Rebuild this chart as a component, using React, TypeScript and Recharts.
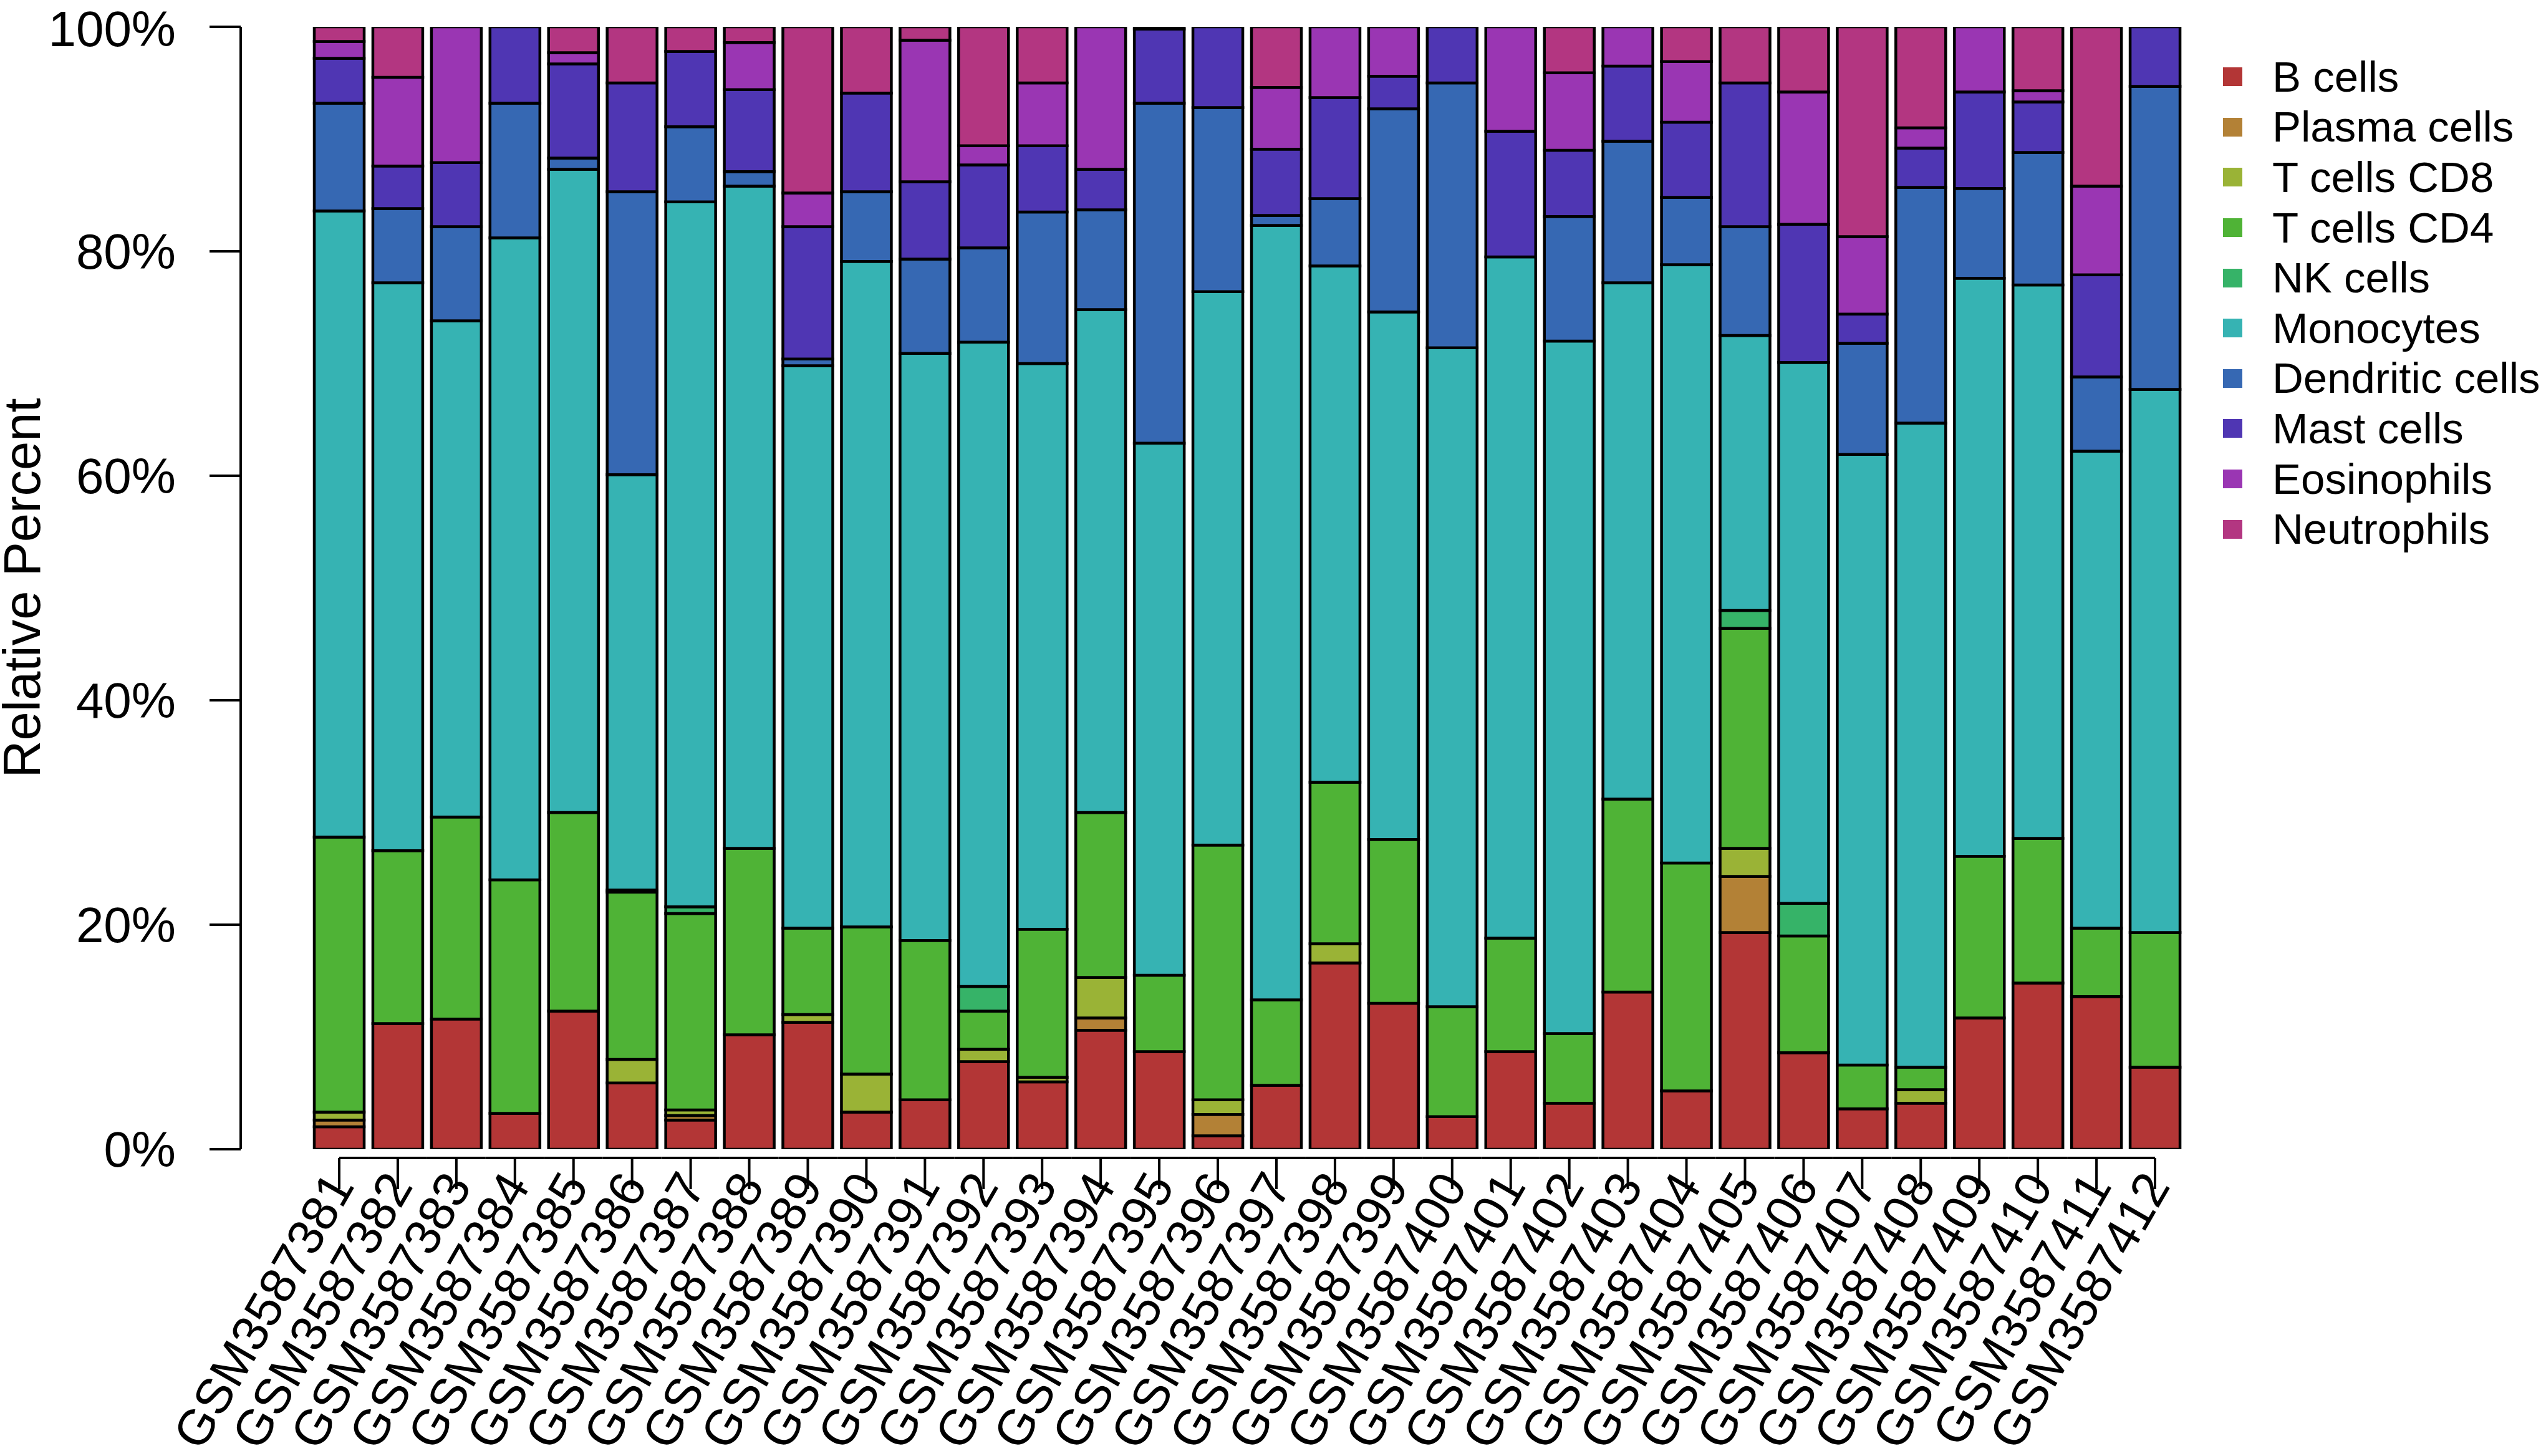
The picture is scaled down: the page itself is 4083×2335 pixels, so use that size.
import React from 'react';
import { BarChart, Bar, XAxis, YAxis } from 'recharts';

// sample ids along the x axis
const SAMPLES = [
  'GSM3587381', 'GSM3587382', 'GSM3587383', 'GSM3587384', 'GSM3587385', 'GSM3587386',
  'GSM3587387', 'GSM3587388', 'GSM3587389', 'GSM3587390', 'GSM3587391', 'GSM3587392',
  'GSM3587393', 'GSM3587394', 'GSM3587395', 'GSM3587396', 'GSM3587397', 'GSM3587398',
  'GSM3587399', 'GSM3587400', 'GSM3587401', 'GSM3587402', 'GSM3587403', 'GSM3587404',
  'GSM3587405', 'GSM3587406', 'GSM3587407', 'GSM3587408', 'GSM3587409', 'GSM3587410',
  'GSM3587411', 'GSM3587412',
];

const CELL_TYPES = [
  'B cells', 'Plasma cells', 'T cells CD8', 'T cells CD4', 'NK cells',
  'Monocytes', 'Dendritic cells', 'Mast cells', 'Eosinophils', 'Neutrophils',
];

// rainbow(10, s = 0.7, v = 0.7)
const CELL_COLORS = [
  '#B33636', '#B38136', '#9AB336', '#4FB336', '#36B368',
  '#36B3B3', '#3668B3', '#4F36B3', '#9A36B3', '#B33681',
];

// relative percent per sample (bottom to top of each stack)
const B_CELLS = [2.0, 11.2, 11.6, 3.2, 12.3, 5.9, 2.6, 10.2, 11.3, 3.3, 4.4, 7.8, 6.0, 10.6, 8.7, 1.2, 5.7, 16.6, 13.0, 2.9, 8.7, 4.1, 14.0, 5.2, 19.3, 8.6, 3.6, 4.1, 11.7, 14.8, 13.6, 7.3];
const PLASMA_CELLS = [0.6, 0, 0, 0, 0, 0, 0.4, 0, 0, 0, 0, 0, 0, 1.1, 0, 1.9, 0, 0, 0, 0, 0, 0, 0, 0, 5.0, 0, 0, 0, 0, 0, 0, 0];
const T_CD8 = [0.7, 0, 0, 0, 0, 2.1, 0.5, 0, 0.7, 3.4, 0, 1.1, 0.4, 3.6, 0, 1.3, 0, 1.7, 0, 0, 0, 0, 0, 0, 2.5, 0, 0, 1.2, 0, 0, 0, 0];
const T_CD4 = [24.5, 15.4, 18.0, 20.8, 17.7, 14.9, 17.5, 16.6, 7.7, 13.1, 14.2, 3.4, 13.2, 14.7, 6.8, 22.7, 7.6, 14.4, 14.6, 9.8, 10.1, 6.2, 17.2, 20.3, 19.6, 10.4, 3.9, 2.0, 14.4, 12.9, 6.1, 12.0];
const NK_CELLS = [0, 0, 0, 0, 0, 0.2, 0.6, 0, 0, 0, 0, 2.2, 0, 0, 0, 0, 0, 0, 0, 0, 0, 0, 0, 0, 1.6, 2.9, 0, 0, 0, 0, 0, 0];
const MONOCYTES = [55.8, 50.6, 44.2, 57.2, 57.3, 37.0, 62.8, 59.0, 50.1, 59.3, 52.3, 57.4, 50.4, 44.8, 47.4, 49.3, 69.0, 46.0, 47.0, 58.7, 60.7, 61.7, 46.0, 53.3, 24.5, 48.2, 54.4, 57.4, 51.5, 49.3, 42.5, 48.4];
const DENDRITIC = [9.6, 6.6, 8.4, 12.0, 1.0, 25.2, 6.7, 1.3, 0.6, 6.2, 8.4, 8.4, 13.5, 8.9, 30.3, 16.4, 0.9, 6.0, 18.1, 23.6, 0, 11.1, 12.6, 6.0, 9.7, 0, 9.9, 21.0, 8.0, 11.8, 6.6, 27.0];
const MAST_CELLS = [4.0, 3.8, 5.7, 6.8, 8.4, 9.7, 6.7, 7.3, 11.8, 8.8, 6.9, 7.4, 5.9, 3.6, 6.6, 7.2, 5.9, 9.0, 2.9, 5.0, 11.2, 5.9, 6.7, 6.7, 12.8, 12.3, 2.6, 3.5, 8.6, 4.5, 9.1, 5.3];
const EOSINOPHILS = [1.5, 7.9, 12.1, 0, 1.0, 0, 0, 4.2, 3.0, 0, 12.6, 1.7, 5.6, 12.7, 0, 0, 5.5, 6.3, 4.4, 0, 9.3, 6.9, 3.5, 5.4, 0, 11.8, 6.9, 1.8, 5.8, 1.0, 7.9, 0];
const NEUTROPHILS = [1.3, 4.5, 0, 0, 2.3, 5.0, 2.2, 1.4, 14.8, 5.9, 1.2, 10.6, 5.0, 0, 0.2, 0, 5.4, 0, 0, 0, 0, 4.1, 0, 3.1, 5.0, 5.8, 18.7, 9.0, 0, 5.7, 14.2, 0];

const Y_TICKS = [0, 20, 40, 60, 80, 100];

const SERIES = [
  B_CELLS, PLASMA_CELLS, T_CD8, T_CD4, NK_CELLS,
  MONOCYTES, DENDRITIC, MAST_CELLS, EOSINOPHILS, NEUTROPHILS,
];

const data = SAMPLES.map((name, i) => {
  const row: Record<string, string | number> = { name };
  CELL_TYPES.forEach((type, j) => {
    row[type] = SERIES[j][i];
  });
  return row;
});

// layout
const WIDTH = 4083;
const HEIGHT = 2335;
const PLOT_LEFT = 386;
const PLOT_TOP = 43;
const PLOT_BOTTOM = 1843;
const PLOT_RIGHT = 3503;
const PAD_LEFT = 111;
const BAND = (PLOT_RIGHT - PLOT_LEFT - PAD_LEFT) / SAMPLES.length;
const AXIS_Y = 1857;
const FONT = '"Liberation Sans", Arial, Helvetica, sans-serif';

const XTick = (props: any) => {
  const { x, payload, index } = props;
  const left = index > 0 ? BAND / 2 : 0;
  const right = index < SAMPLES.length - 1 ? BAND / 2 : 0;
  return (
    <g>
      <line x1={x - left} x2={x + right} y1={AXIS_Y} y2={AXIS_Y} stroke="#000" strokeWidth={4} />
      <line x1={x} x2={x} y1={AXIS_Y} y2={AXIS_Y + 50} stroke="#000" strokeWidth={4} />
      <text
        transform={`translate(${x + 2},${AXIS_Y + 31}) rotate(-60)`}
        textAnchor="end"
        dominantBaseline="central"
        fontSize={80}
        fontFamily={FONT}
        fill="#000"
      >
        {payload.value}
      </text>
    </g>
  );
};

const YTitle = (props: any) => {
  const { viewBox } = props;
  const cy = viewBox ? viewBox.y + viewBox.height / 2 : (PLOT_TOP + PLOT_BOTTOM) / 2;
  return (
    <text
      transform={`translate(64,${cy}) rotate(-90)`}
      textAnchor="middle"
      fontSize={83}
      fontFamily={FONT}
      fill="#000"
    >
      Relative Percent
    </text>
  );
};

const LegendBox = () => (
  <div
    style={{
      position: 'absolute',
      left: 3565,
      top: 83,
      fontFamily: FONT,
      fontSize: 69,
      color: '#000',
    }}
  >
    {CELL_TYPES.map((type, i) => (
      <div key={type} style={{ display: 'flex', alignItems: 'center', height: 80.6, whiteSpace: 'nowrap' }}>
        <span style={{ display: 'inline-block', width: 31, height: 30, background: CELL_COLORS[i] }} />
        <span style={{ marginLeft: 48 }}>{type}</span>
      </div>
    ))}
  </div>
);

export default function App() {
  return (
    <div style={{ position: 'absolute', left: 0, top: 0, width: WIDTH, height: HEIGHT, background: '#fff' }}>
      <BarChart
        width={WIDTH}
        height={HEIGHT}
        data={data}
        margin={{ top: PLOT_TOP, right: WIDTH - PLOT_RIGHT, bottom: 0, left: 0 }}
      >
        <XAxis
          dataKey="name"
          interval={0}
          height={HEIGHT - PLOT_BOTTOM}
          padding={{ left: PAD_LEFT, right: 0 }}
          axisLine={false}
          tickLine={false}
          tick={<XTick />}
        />
        <YAxis
          width={PLOT_LEFT}
          domain={[0, 100]}
          ticks={Y_TICKS}
          allowDataOverflow
          tickFormatter={(v) => `${v}%`}
          axisLine={{ stroke: '#000', strokeWidth: 4 }}
          tickLine={{ stroke: '#000', strokeWidth: 4 }}
          tickSize={50}
          tickMargin={54}
          tick={{ fill: '#000', fontSize: 80, fontFamily: FONT }}
          label={<YTitle />}
        />
        {CELL_TYPES.map((type, i) => (
          <Bar
            key={type}
            dataKey={type}
            stackId="cells"
            fill={CELL_COLORS[i]}
            stroke="#000"
            strokeWidth={4.5}
            barSize={80}
            isAnimationActive={false}
          />
        ))}
      </BarChart>
      <LegendBox />
    </div>
  );
}
